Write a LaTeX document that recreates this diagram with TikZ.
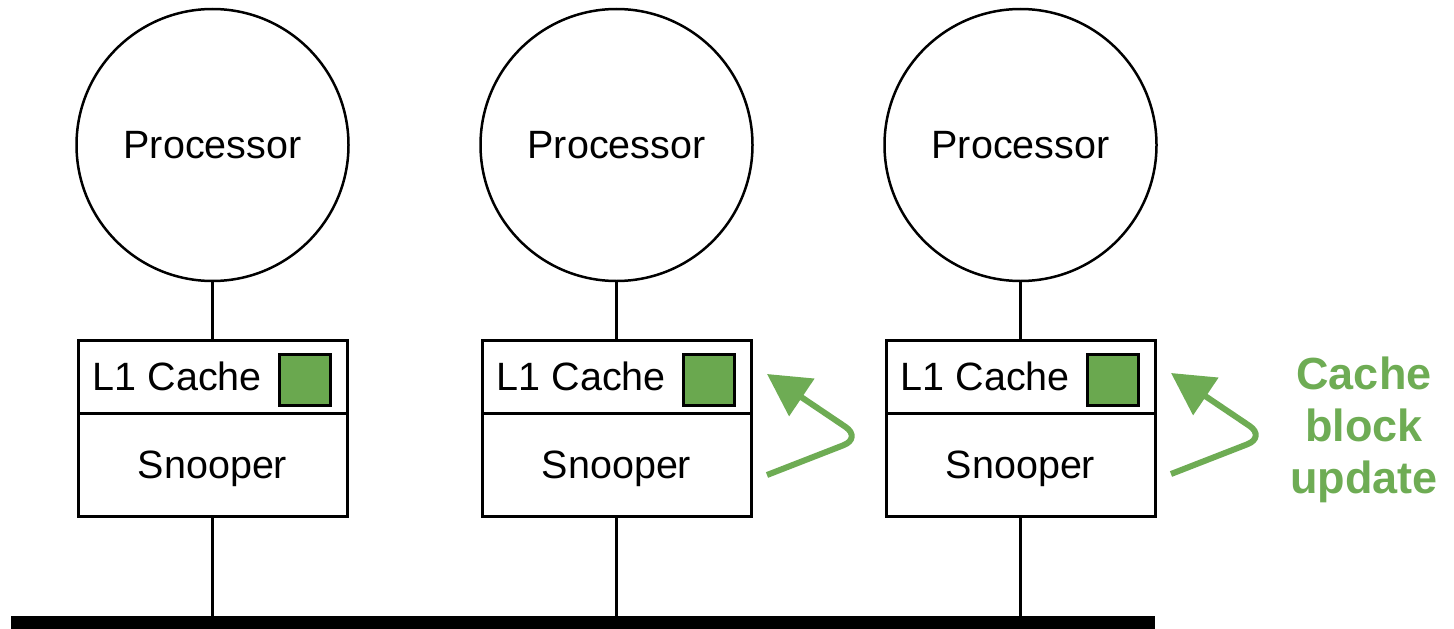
\documentclass[tikz,border=0pt]{standalone}
\usepackage{fontspec}
\setmainfont{Liberation Sans}
\usetikzlibrary{arrows.meta}
\definecolor{cgreen}{RGB}{106,168,79}
\definecolor{lgreen}{RGB}{110,172,84}
\tikzset{
  proc/.style={circle, draw, line width=2.5pt, minimum size=272pt, inner sep=0pt, font=\fontsize{39.5}{44}\selectfont},
  cachebox/.style={rectangle, draw, line width=3pt, minimum width=269pt, minimum height=73pt, inner sep=0pt},
  snoopbox/.style={rectangle, draw, line width=3pt, minimum width=269pt, minimum height=103pt, inner sep=0pt, text depth=0pt, font=\fontsize{39.5}{44}\selectfont},
  blocksq/.style={rectangle, draw, line width=2.5pt, fill=cgreen, minimum size=51pt, inner sep=0pt},
  lbl/.style={font=\fontsize{39.5}{44}\selectfont, inner sep=0pt, anchor=west},
  wire/.style={line width=2.5pt},
  upd/.style={draw=lgreen, line width=6pt, rounded corners=20pt, -{Triangle[length=42pt,width=44pt]}},
}
\begin{document}
\begin{tikzpicture}[x=1pt,y=-1pt]
\useasboundingbox (0,0) rectangle (1454,629);
\fill (11,616) rectangle (1155,632);
\foreach \i/\x in {1/212.5,2/616.5,3/1020.5}{
  \node[proc] (p\i) at (\x,145) {Processor};
  \node[cachebox] (c\i) at (\x,376.5) {};
  \node[snoopbox] (s\i) at (\x,464.5) {Snooper};
  \node[lbl] (t\i) at (\x-120,376) {L1 Cache};
  \node[blocksq] (g\i) at (\x+92.5,380) {};
  \coordinate (b\i) at (\x,616);
  \draw[wire] (p\i.south) -- (c\i.north);
  \draw[wire] (s\i.south) -- (b\i);
}
\coordinate (a1s) at (767,475);
\coordinate (a1m) at (862,438);
\coordinate (a1e) at (767,374);
\draw[upd] (a1s) -- (a1m) -- (a1e);
\coordinate (a2s) at (1171,474);
\coordinate (a2m) at (1266,437);
\coordinate (a2e) at (1171,373);
\draw[upd] (a2s) -- (a2m) -- (a2e);
\node[font=\bfseries\fontsize{45}{52}\selectfont, text=lgreen, align=center] (ul) at (1364,430) {Cache\\block\\update};
\end{tikzpicture}
\end{document}
